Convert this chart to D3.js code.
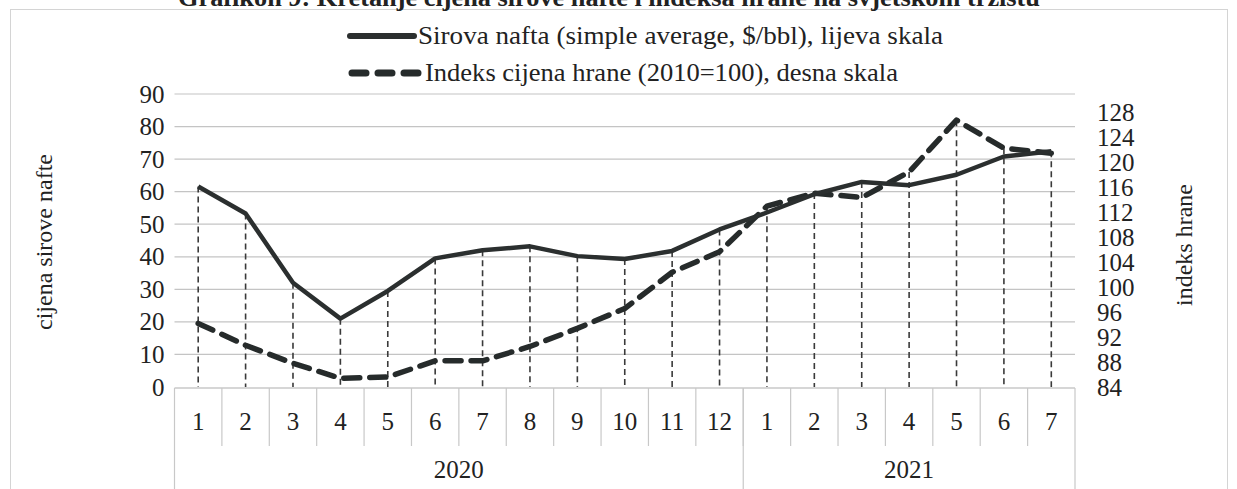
<!DOCTYPE html>
<html>
<head>
<meta charset="utf-8">
<script src="https://cdn.jsdelivr.net/npm/d3@7"></script>
<style>
  html, body { margin: 0; padding: 0; background: #fff; }
  svg { display: block; }
</style>
</head>
<body>
<div id="chart"></div>
<script>
// ---- data ----
const months = ["1","2","3","4","5","6","7","8","9","10","11","12","1","2","3","4","5","6","7"];
const years = ["2020", "2021"];
const yearCounts = [12, 7];
const oilPrice = [61.6, 53.3, 32.0, 21.0, 29.5, 39.5, 42.0, 43.2, 40.2, 39.3, 41.8, 48.4, 53.6, 59.2, 63.0, 62.0, 65.2, 70.8, 72.4];
const foodIndex = [94.2, 90.7, 87.8, 85.4, 85.6, 88.2, 88.2, 90.5, 93.4, 96.6, 102.4, 105.7, 113.0, 115.1, 114.4, 118.5, 126.8, 122.3, 121.5];
const leftTicks = [0, 10, 20, 30, 40, 50, 60, 70, 80, 90];
const rightTicks = [84, 88, 92, 96, 100, 104, 108, 112, 116, 120, 124, 128];
const seriesNames = ["Sirova nafta (simple average, $/bbl), lijeva skala", "Indeks cijena hrane (2010=100), desna skala"];
const titleText = "Grafikon 9: Kretanje cijena sirove nafte i indeksa hrane na svjetskom tržištu";
const leftTitle = "cijena sirove nafte";
const rightTitle = "indeks hrane";

// ---- layout ----
const W = 1237, H = 489;
const FONT = "'Liberation Serif', 'Times New Roman', Tinos, serif";
const plot = { left: 174.5, right: 1075, top: 94, bottom: 387 };

const svg = d3.select("#chart").append("svg").attr("width", W).attr("height", H)
  .style("font-family", FONT);

function styleText(sel, size) {
  sel.style("font-family", FONT).style("font-size", size + "px").style("fill", "#222");
  return sel;
}

// outer frame
svg.append("rect").attr("x", 10.5).attr("y", 9.5).attr("width", 1217).attr("height", 500)
  .attr("fill", "none").attr("stroke", "#d4d4d4").attr("stroke-width", 1);

// title (cut at top)
styleText(svg.append("text").attr("x", 609).attr("y", 6).attr("text-anchor", "middle")
  .style("font-weight", "bold")
  .attr("textLength", 862).attr("lengthAdjust", "spacingAndGlyphs")
  .text(titleText), 25);

const x = d3.scaleBand().domain(d3.range(months.length)).range([plot.left, plot.right]).padding(0);
const cx = i => x(i) + x.bandwidth() / 2;
const yL = d3.scaleLinear().domain([0, 90]).range([plot.bottom, plot.top]);
const yR = d3.scaleLinear().domain([84, 131]).range([plot.bottom, plot.top]);

// gridlines
svg.append("g").selectAll("line").data(leftTicks.filter(d => d > 0)).join("line")
  .attr("x1", plot.left).attr("x2", plot.right)
  .attr("y1", d => yL(d)).attr("y2", d => yL(d))
  .attr("stroke", "#c4c4c4").attr("stroke-width", 1.2);

// left axis
const gL = svg.append("g").attr("transform", `translate(${plot.left},0)`)
  .call(d3.axisLeft(yL).tickValues(leftTicks).tickSize(0).tickPadding(10));
gL.select(".domain").remove();
gL.attr("font-family", null);
styleText(gL.selectAll("text"), 25);

// right axis
const gR = svg.append("g").attr("transform", `translate(${plot.right},0)`)
  .call(d3.axisRight(yR).tickValues(rightTicks).tickSize(0).tickPadding(22));
gR.select(".domain").remove();
gR.attr("font-family", null);
styleText(gR.selectAll("text"), 25);

// axis titles
styleText(svg.append("text").attr("transform", "translate(52,242) rotate(-90)")
  .attr("text-anchor", "middle").text(leftTitle), 24);
styleText(svg.append("text").attr("transform", "translate(1192,245) rotate(-90)")
  .attr("text-anchor", "middle").text(rightTitle), 24);

// category table
const tableG = svg.append("g");
tableG.append("line").attr("x1", plot.left).attr("x2", plot.right)
  .attr("y1", plot.bottom + 1).attr("y2", plot.bottom + 1).attr("stroke", "#c8c8c8").attr("stroke-width", 1.5);
tableG.selectAll("line.sep").data(d3.range(1, months.length)).join("line").attr("class", "sep")
  .attr("x1", i => x(i)).attr("x2", i => x(i))
  .attr("y1", plot.bottom + 1).attr("y2", 446)
  .attr("stroke", "#c8c8c8").attr("stroke-width", 1.2);
const yearBounds = [0];
yearCounts.forEach((c, k) => yearBounds.push(yearBounds[k] + c));
tableG.selectAll("line.ysep").data(yearBounds).join("line").attr("class", "ysep")
  .attr("x1", i => i < months.length ? x(i) : plot.right)
  .attr("x2", i => i < months.length ? x(i) : plot.right)
  .attr("y1", plot.bottom + 1).attr("y2", H)
  .attr("stroke", "#c8c8c8").attr("stroke-width", 1.2);
styleText(tableG.selectAll("text.m").data(months).join("text").attr("class", "m")
  .attr("x", (d, i) => cx(i)).attr("y", 430).attr("text-anchor", "middle")
  .text(d => d), 25);
styleText(tableG.selectAll("text.y").data(years).join("text").attr("class", "y")
  .attr("x", (d, k) => {
    const a = x(yearBounds[k]);
    const b = yearBounds[k + 1] < months.length ? x(yearBounds[k + 1]) : plot.right;
    return (a + b) / 2;
  })
  .attr("y", 478).attr("text-anchor", "middle").text(d => d), 25);

// drop lines from highest point
svg.append("g").selectAll("line").data(d3.range(months.length)).join("line")
  .attr("x1", cx).attr("x2", cx)
  .attr("y1", i => Math.min(yL(oilPrice[i]), yR(foodIndex[i])))
  .attr("y2", plot.bottom)
  .attr("stroke", "#3a3a3a").attr("stroke-width", 1.6).attr("stroke-dasharray", "6,4");

// series lines
const lineOil = d3.line().x((d, i) => cx(i)).y(d => yL(d));
const lineFood = d3.line().x((d, i) => cx(i)).y(d => yR(d));
svg.append("path").datum(foodIndex).attr("d", lineFood)
  .attr("fill", "none").attr("stroke", "#262b2b").attr("stroke-width", 5.5)
  .attr("stroke-dasharray", "16,10").attr("stroke-linecap", "round").attr("stroke-linejoin", "round");
svg.append("path").datum(oilPrice).attr("d", lineOil)
  .attr("fill", "none").attr("stroke", "#2b2f2f").attr("stroke-width", 4.5)
  .attr("stroke-linejoin", "round");

// legend
const lg = svg.append("g");
lg.append("line").attr("x1", 350).attr("x2", 414).attr("y1", 36).attr("y2", 36)
  .attr("stroke", "#2b2f2f").attr("stroke-width", 6).attr("stroke-linecap", "round");
styleText(lg.append("text").attr("x", 418).attr("y", 44)
  .attr("textLength", 525).attr("lengthAdjust", "spacingAndGlyphs").text(seriesNames[0]), 25);
lg.append("line").attr("x1", 352).attr("x2", 420).attr("y1", 73).attr("y2", 73)
  .attr("stroke", "#262b2b").attr("stroke-width", 7).attr("stroke-linecap", "round")
  .attr("stroke-dasharray", "14,12");
styleText(lg.append("text").attr("x", 425).attr("y", 81)
  .attr("textLength", 473).attr("lengthAdjust", "spacingAndGlyphs").text(seriesNames[1]), 25);
</script>
</body>
</html>
